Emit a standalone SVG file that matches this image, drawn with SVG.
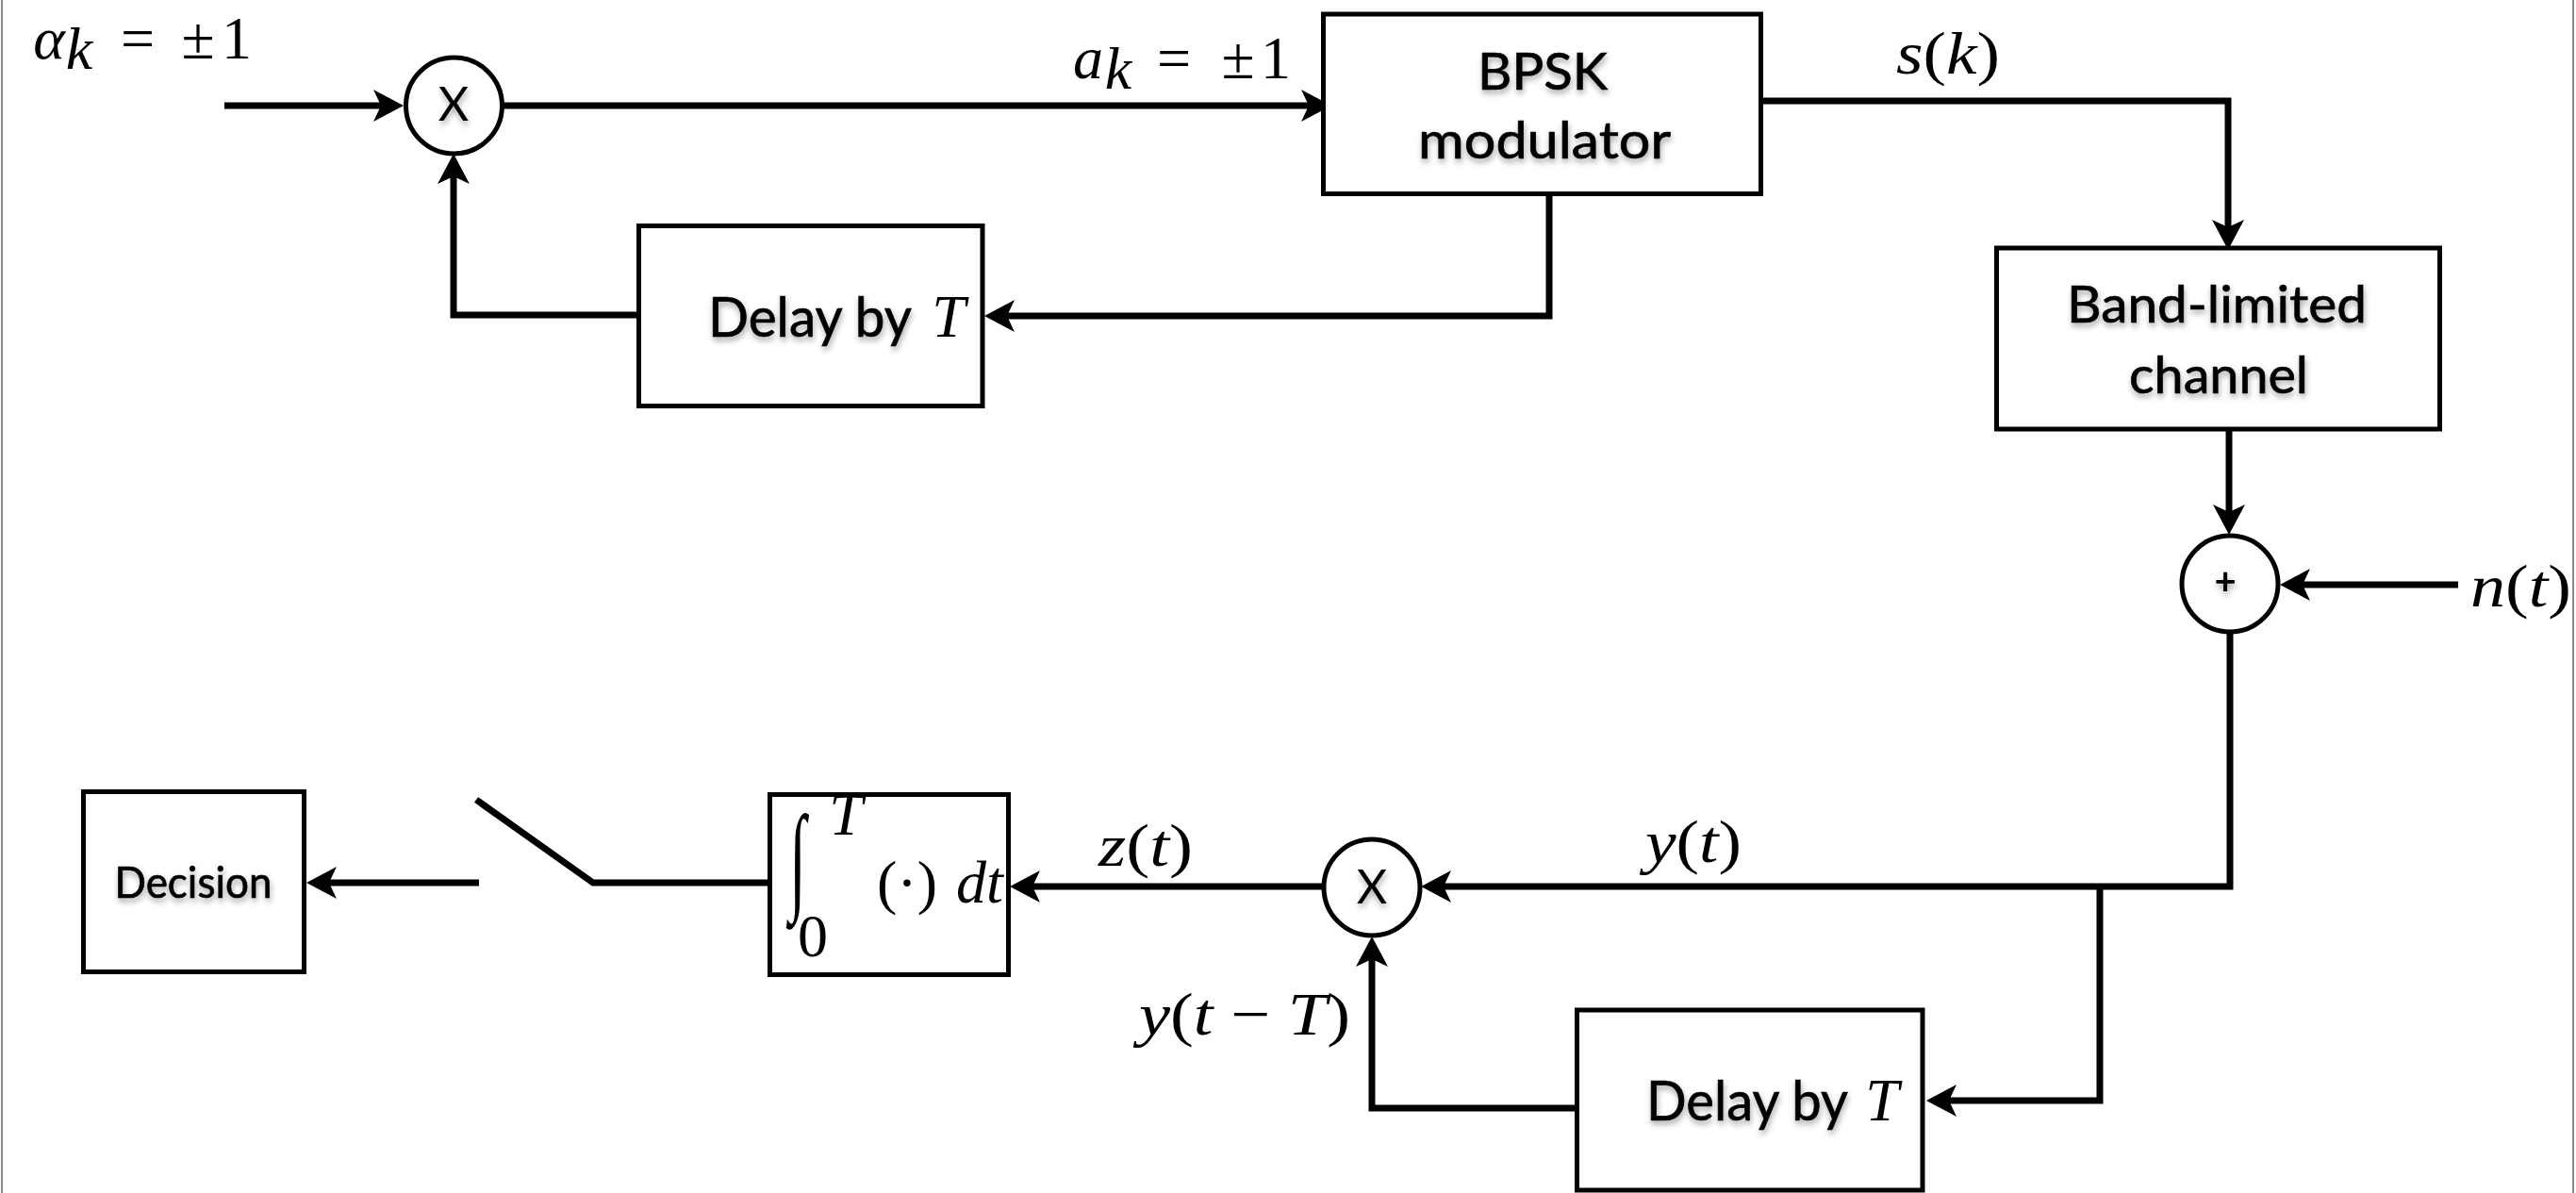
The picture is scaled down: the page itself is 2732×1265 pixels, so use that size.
<svg xmlns="http://www.w3.org/2000/svg" width="2732" height="1265" viewBox="0 0 2732 1265">
<style>
  .bx{fill:#fff;stroke:#000;stroke-width:5}
  .cr{fill:#fff;stroke:#000;stroke-width:5}
  .cn{fill:none;stroke:#000;stroke-width:7;stroke-linejoin:miter;stroke-linecap:butt}
  .ar{marker-end:url(#ah)}
  .s{font-family:Lato,"Open Sans","Liberation Sans",sans-serif;fill:#000;stroke:#000;stroke-width:0.7;text-anchor:middle;filter:url(#sh)}
  .m{font-family:"Liberation Serif","DejaVu Serif",serif;font-size:64px;fill:#000}
  .i{font-style:italic}
  .c{text-anchor:middle}
</style>
<defs>
  <marker id="ah" viewBox="0 -20 40 40" markerWidth="40" markerHeight="40" refX="8" refY="0" orient="auto" markerUnits="userSpaceOnUse">
    <path d="M0,-17 L32,0 L0,17 L8,0 Z" fill="#000"/>
  </marker>
  <filter id="sh" x="-20%" y="-30%" width="140%" height="170%">
    <feDropShadow dx="1" dy="4" stdDeviation="3" flood-color="#000" flood-opacity="0.35"/>
  </filter>
</defs>
<rect x="0" y="0" width="2732" height="1265" fill="#fff"/>
<line x1="2" y1="0" x2="2" y2="1265" stroke="#8c8c8c" stroke-width="2"/>
<line x1="2729" y1="0" x2="2729" y2="1265" stroke="#8c8c8c" stroke-width="2"/>

<g id="connectors">
  <path class="cn ar" d="M238,112 H404"/>
  <path class="cn ar" d="M533,112 H1388"/>
  <path class="cn ar" d="M1862,107 H2363 V241"/>
  <path class="cn ar" d="M2364,455 V543"/>
  <path class="cn ar" d="M2607,620 H2442"/>
  <path class="cn ar" d="M2365,670 V940 H1531"/>
  <path class="cn ar" d="M2227,940 V1167 H2067"/>
  <path class="cn ar" d="M1673,1175 H1455 V1017"/>
  <path class="cn ar" d="M1404,940 H1095"/>
  <path class="cn ar" d="M508,936 H349"/>
  <path class="cn ar" d="M1643,205 V335 H1068"/>
  <path class="cn ar" d="M677,334 H481 V187"/>
</g>

<g id="switch">
  <polyline class="cn" points="816,936 629,936 505,848"/>
</g>

<g id="mult-top">
  <circle class="cr" cx="481.5" cy="112" r="51"/>
  <text class="s" x="481" y="128" font-size="50" style="stroke-width:0">X</text>
</g>

<g id="bpsk">
  <rect class="bx" x="1403.5" y="15" width="464" height="190.5"/>
  <text class="s" x="1636" y="95" font-size="54" textLength="138" lengthAdjust="spacingAndGlyphs">BPSK</text>
  <text class="s" x="1638" y="168" font-size="54" textLength="268" lengthAdjust="spacingAndGlyphs">modulator</text>
</g>

<g id="delay-top">
  <rect class="bx" x="677.5" y="239.5" width="364.5" height="191"/>
  <text class="s" x="859" y="357" font-size="58" textLength="216" lengthAdjust="spacingAndGlyphs">Delay by</text>
  <text class="m i c" x="1006" y="357" font-size="62">T</text>
</g>

<g id="channel">
  <rect class="bx" x="2117.5" y="263" width="470" height="192"/>
  <text class="s" x="2351" y="342" font-size="54" textLength="318" lengthAdjust="spacingAndGlyphs">Band-limited</text>
  <text class="s" x="2353" y="417" font-size="54" textLength="190" lengthAdjust="spacingAndGlyphs">channel</text>
</g>

<g id="sum">
  <circle class="cr" cx="2365" cy="619" r="51"/>
  <text class="s" x="2360" y="630" font-size="40" font-weight="bold" style="stroke-width:0">+</text>
</g>

<g id="mult-bottom">
  <circle class="cr" cx="1455" cy="941" r="51"/>
  <text class="s" x="1455" y="958" font-size="50" style="stroke-width:0">X</text>
</g>

<g id="delay-bottom">
  <rect class="bx" x="1672.5" y="1071" width="366.5" height="191"/>
  <text class="s" x="1853" y="1188" font-size="58" textLength="214" lengthAdjust="spacingAndGlyphs">Delay by</text>
  <text class="m i c" x="1996" y="1188" font-size="62">T</text>
</g>

<g id="integrator">
  <rect class="bx" x="816.5" y="842.5" width="253" height="191"/>
  <text class="m i c" font-size="190" transform="translate(846,952) scale(1,1.97)">∫</text>
  <text class="m i c" x="897" y="885" font-size="42">T</text>
  <text class="m c" x="862" y="1014" font-size="42">0</text>
  <text class="m c" x="962" y="957">(·)</text>
  <text class="m i c" x="1039" y="957">dt</text>
</g>

<g id="decision">
  <rect class="bx" x="88.5" y="839.5" width="234" height="191"/>
  <text class="s" x="205" y="952" font-size="46" textLength="167" lengthAdjust="spacingAndGlyphs">Decision</text>
</g>

<g id="labels">
  <text class="m i c" x="52" y="62">α</text>
  <text class="m i c" x="84" y="73" font-size="45">k</text>
  <text class="m c" x="146" y="62">=</text>
  <text class="m c" x="210" y="62">±</text>
  <text class="m c" x="251" y="62">1</text>

  <text class="m i c" x="1154" y="83">a</text>
  <text class="m i c" x="1186" y="94" font-size="45">k</text>
  <text class="m c" x="1245" y="83">=</text>
  <text class="m c" x="1313" y="83">±</text>
  <text class="m c" x="1353" y="83">1</text>

  <text class="m" x="2011" y="78" textLength="110" lengthAdjust="spacingAndGlyphs"><tspan class="i">s</tspan>(<tspan class="i">k</tspan>)</text>
  <text class="m" x="2620" y="643" textLength="107" lengthAdjust="spacingAndGlyphs"><tspan class="i">n</tspan>(<tspan class="i">t</tspan>)</text>
  <text class="m" x="1745" y="914" textLength="102" lengthAdjust="spacingAndGlyphs"><tspan class="i">y</tspan>(<tspan class="i">t</tspan>)</text>
  <text class="m" x="1165" y="918" textLength="100" lengthAdjust="spacingAndGlyphs"><tspan class="i">z</tspan>(<tspan class="i">t</tspan>)</text>
  <text class="m" x="1208" y="1097" textLength="224" lengthAdjust="spacingAndGlyphs"><tspan class="i">y</tspan>(<tspan class="i">t</tspan> − <tspan class="i">T</tspan>)</text>
</g>
</svg>
